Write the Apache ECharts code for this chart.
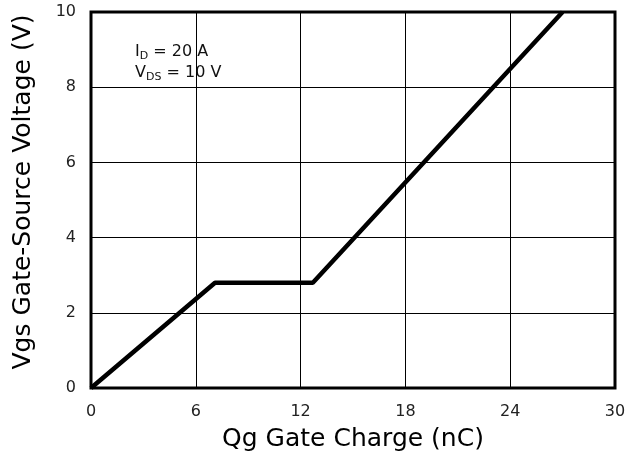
<!DOCTYPE html>
<html>
<head>
<meta charset="utf-8">
<script src="https://cdn.jsdelivr.net/npm/echarts@6/dist/echarts.min.js"></script>
<style>
  html, body { margin: 0; padding: 0; background: #fff; }
  #chart { width: 638px; height: 465px; }
</style>
</head>
<body>
<div id="chart"></div>
<script>
// gate charge curve
const qg = [0, 7.1, 12.7, 27.0];      // nC
const vgs = [0, 2.8, 2.8, 10.0];      // V
const xTicks = [0, 6, 12, 18, 24, 30];
const yTicks = [0, 2, 4, 6, 8, 10];

const font = 'DejaVu Sans, Liberation Sans, sans-serif';
let chart = echarts.init(document.getElementById('chart'));

let option = {
  animation: false,
  backgroundColor: '#fff',
  grid: {
    left: 91, right: 23, top: 12, bottom: 77,
    show: true, borderColor: '#000', borderWidth: 3,
    backgroundColor: 'transparent'
  },
  xAxis: {
    type: 'value',
    min: xTicks[0], max: xTicks[xTicks.length - 1], interval: 6,
    name: 'Qg Gate Charge (nC)',
    nameLocation: 'middle', nameGap: 39,
    nameTextStyle: { fontFamily: font, fontSize: 25, color: '#000' },
    axisLine: { show: false },
    axisTick: { show: false },
    axisLabel: { margin: 16, fontFamily: font, fontSize: 16, color: '#222' },
    splitLine: { show: true, lineStyle: { color: '#000', width: 1 } }
  },
  yAxis: {
    type: 'value',
    min: yTicks[0], max: yTicks[yTicks.length - 1], interval: 2,
    name: 'Vgs Gate-Source Voltage (V)',
    nameLocation: 'middle', nameGap: 55,
    nameTextStyle: { fontFamily: font, fontSize: 25, color: '#000', padding: [0, 0, 0, 16] },
    axisLine: { show: false },
    axisTick: { show: false },
    axisLabel: { margin: 15, fontFamily: font, fontSize: 16, color: '#222' },
    splitLine: { show: true, lineStyle: { color: '#000', width: 1 } }
  },
  graphic: [
    {
      type: 'text', left: 135, top: 41, z: 10,
      style: {
        text: 'I{sub|D} = 20 A\nV{sub|DS} = 10 V',
        fontFamily: font, fontSize: 16, fill: '#111', lineHeight: 21,
        rich: {
          sub: { fontFamily: font, fontSize: 11, verticalAlign: 'bottom', lineHeight: 14, padding: [7, 0, 0, 0] }
        }
      }
    }
  ],
  series: [
    {
      type: 'line',
      data: qg.map((q, i) => [q, vgs[i]]),
      showSymbol: false,
      lineStyle: { color: '#000', width: 4.5 },
      clip: true
    }
  ]
};
chart.setOption(option);
</script>
</body>
</html>
